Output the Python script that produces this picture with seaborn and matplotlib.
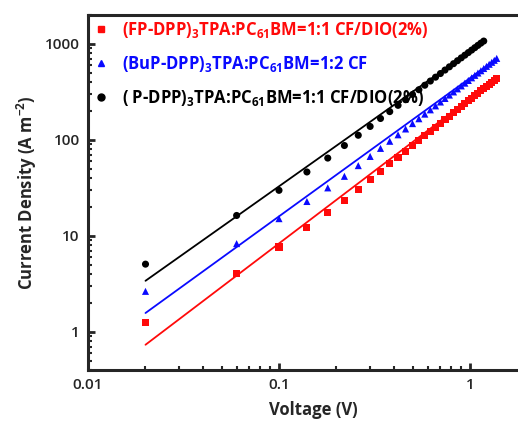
import numpy as np
import pandas as pd
import matplotlib
matplotlib.use("Agg")
import matplotlib.pyplot as plt
from matplotlib.lines import Line2D
import seaborn as sns

# Voltage steps (V)
voltage_long = [0.02, 0.06, 0.10, 0.14, 0.18, 0.22, 0.26, 0.30, 0.34, 0.38,
                0.42, 0.46, 0.50, 0.54, 0.58, 0.62, 0.66, 0.70, 0.74, 0.78,
                0.82, 0.86, 0.90, 0.94, 0.98, 1.02, 1.06, 1.10, 1.14, 1.18,
                1.22, 1.26, 1.30, 1.34, 1.38]
voltage_short = voltage_long[:30]

# Current density (A m^-2)
j_fp = [1.24, 4.06, 7.65, 12.2, 17.6, 23.5, 30.7, 38.5, 47.1, 56.2,
        65.9, 76.2, 87.1, 98.4, 110, 123, 136, 149, 163, 177,
        192, 207, 222, 238, 255, 271, 289, 306, 324, 342,
        361, 380, 400, 420, 439]
j_bup = [2.64, 8.3, 15.1, 22.8, 31.6, 41.7, 53.9, 67.2, 81.5, 96.7,
         112.9, 129.9, 147.7, 166, 185.5, 205.6, 226, 248, 270, 293,
         316, 340, 365, 390, 416, 443, 470, 497, 525, 554,
         583, 613, 643, 674, 706]
j_p = [5.07, 16.3, 29.8, 46.3, 64.6, 87.3, 111.7, 138, 167, 197,
       229, 262, 297, 333, 371, 410, 450, 491, 534, 577,
       622, 668, 715, 763, 812, 862, 913, 965, 1018, 1070]

# Power-law fit lines (end points)
fit_v_fp = [0.02, 1.38]
fit_j_fp = [0.733, 439]
fit_v_bup = [0.02, 1.38]
fit_j_bup = [1.57, 700]
fit_v_p = [0.02, 1.18]
fit_j_p = [3.4, 1060]

labels = [
    r"(FP-DPP)$_3$TPA:PC$_{61}$BM=1:1 CF/DIO(2%)",
    r"(BuP-DPP)$_3$TPA:PC$_{61}$BM=1:2 CF",
    r"( P-DPP)$_3$TPA:PC$_{61}$BM=1:1 CF/DIO(2%)",
]
colors = ["#ff0a0a", "#0a0aff", "#000000"]
markers = ["s", "^", "o"]

sns.set_style("ticks")
plt.rcParams["font.family"] = ["Open Sans", "DejaVu Sans"]
plt.rcParams["mathtext.fontset"] = "custom"
plt.rcParams["mathtext.rm"] = "Open Sans:bold"
plt.rcParams["mathtext.it"] = "Open Sans:bold"
plt.rcParams["mathtext.bf"] = "Open Sans:bold"

points = pd.concat([
    pd.DataFrame({"V": voltage_long, "J": j_fp, "sample": labels[0]}),
    pd.DataFrame({"V": voltage_long, "J": j_bup, "sample": labels[1]}),
    pd.DataFrame({"V": voltage_short, "J": j_p, "sample": labels[2]}),
], ignore_index=True)
fits = pd.concat([
    pd.DataFrame({"V": fit_v_fp, "J": fit_j_fp, "sample": labels[0]}),
    pd.DataFrame({"V": fit_v_bup, "J": fit_j_bup, "sample": labels[1]}),
    pd.DataFrame({"V": fit_v_p, "J": fit_j_p, "sample": labels[2]}),
], ignore_index=True)

fig = plt.figure(figsize=(5.18, 4.25), dpi=100)
# axes run past the right edge of the canvas, so only three spines show
ax = fig.add_axes([88 / 518, 55 / 425, 450 / 518, 355 / 425])

palette = dict(zip(labels, colors))
sns.lineplot(data=fits, x="V", y="J", hue="sample", palette=palette,
             linewidth=1.3, legend=False, ax=ax, zorder=2)
sns.scatterplot(data=points, x="V", y="J", hue="sample", style="sample",
                palette=palette, markers=dict(zip(labels, markers)),
                s=26, edgecolor="none", legend=False, ax=ax, zorder=3)

ax.set_xscale("log")
ax.set_yscale("log")
ax.set_xlim(0.01, 10 ** (450 / 191 - 2))
ax.set_ylim(0.4, 2000)
ax.set_xticks([0.01, 0.1, 1])
ax.set_xticklabels(["0.01", "0.1", "1"])
ax.set_yticks([1, 10, 100, 1000])
ax.set_yticklabels(["1", "10", "100", "1000"])

for s in ax.spines.values():
    s.set_linewidth(2.2)
ax.tick_params(which="major", direction="in", length=5, width=2,
               labelsize=11, pad=6, right=False, top=False)
ax.tick_params(which="minor", direction="in", length=3, width=1.5,
               right=False, top=False)
for lab in ax.get_xticklabels() + ax.get_yticklabels():
    lab.set_fontweight("semibold")

ax.set_xlabel("Voltage (V)", fontsize=12, fontweight="bold", labelpad=6)
ax.set_ylabel(r"Current Density (A m$^{-2}$)", fontsize=12,
              fontweight="bold", labelpad=4)

handles = [Line2D([], [], linestyle="none", marker=m, color=c,
                  markersize=5) for m, c in zip(markers, colors)]
leg = ax.legend(handles, labels, loc="upper left", frameon=False,
                labelspacing=0.85, handletextpad=0.8,
                bbox_to_anchor=(-0.005, 1.005), borderaxespad=0.0,
                handlelength=1.0,
                prop={"weight": "bold", "size": 12})
for t, c in zip(leg.get_texts(), colors):
    t.set_color(c)

fig.savefig("out.png", dpi=100)
